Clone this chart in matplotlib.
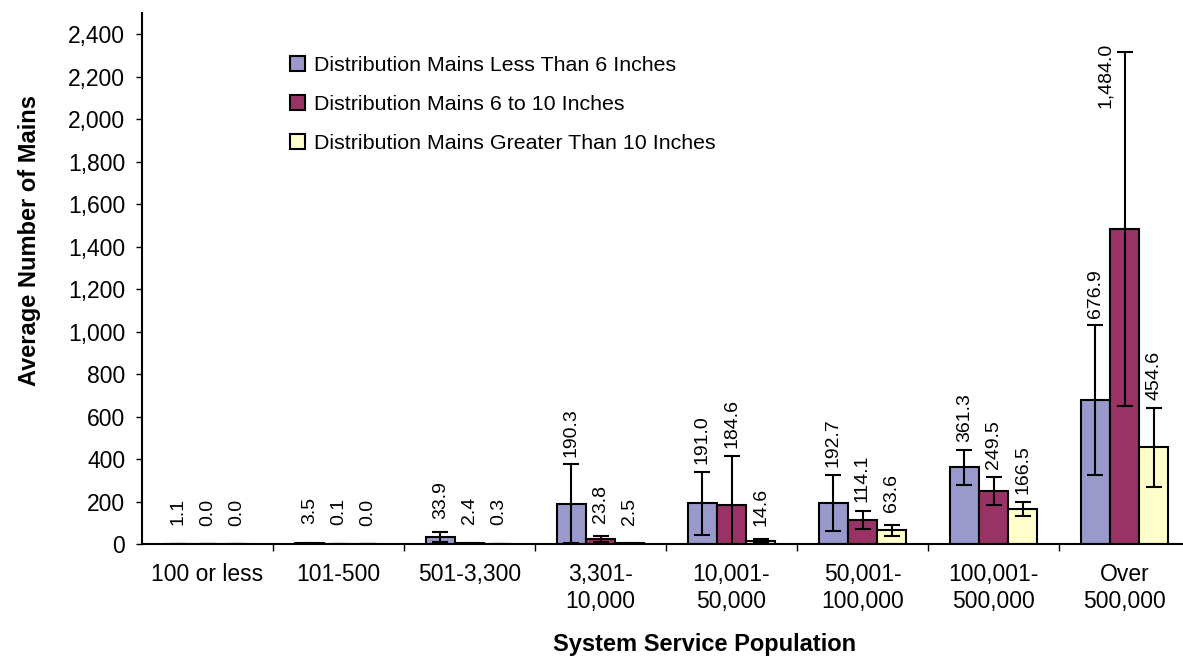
import matplotlib
matplotlib.use("Agg")
import matplotlib.pyplot as plt
import numpy as np

plt.rcParams['font.family'] = ['Liberation Sans', 'DejaVu Sans']

categories = ["100 or less", "101-500", "501-3,300", "3,301-\n10,000", "10,001-\n50,000",
              "50,001-\n100,000", "100,001-\n500,000", "Over\n500,000"]
series_names = ["Distribution Mains Less Than 6 Inches",
                "Distribution Mains 6 to 10 Inches",
                "Distribution Mains Greater Than 10 Inches"]
lt6 = [1.1, 3.5, 33.9, 190.3, 191.0, 192.7, 361.3, 676.9]
mid = [0.0, 0.1, 2.4, 23.8, 184.6, 114.1, 249.5, 1484.0]
gt10 = [0.0, 0.0, 0.3, 2.5, 14.6, 63.6, 166.5, 454.6]
# error bar half-widths
err_lt6 = [1, 2, 24, 185, 150, 133, 82, 352]
err_mid = [0, 0.2, 3, 13, 230, 43, 68, 832]
err_gt10 = [0, 0, 0.5, 2, 7, 25, 33, 188]

colors = ["#9999CC", "#993366", "#FFFFCC"]

fig = plt.figure(figsize=(11.83, 6.58), dpi=100)
# x axis runs a little past the right edge of the picture, as in the original
ax = fig.add_axes([142/1183, 1-544/658, (1190-142)/1183, (544-13)/658])

x = np.arange(len(categories))
w = 0.222
for i, (vals, errs) in enumerate([(lt6, err_lt6), (mid, err_mid), (gt10, err_gt10)]):
    pos = x + (i-1)*w
    ax.bar(pos, vals, w, color=colors[i], edgecolor='black', linewidth=1.5,
           label=series_names[i], zorder=2)
    ax.errorbar(pos, vals, yerr=errs, fmt='none', ecolor='black', elinewidth=1.5,
                capsize=6, capthick=1.5, zorder=3)
    for px, v, e in zip(pos, vals, errs):
        hi = v + e
        if hi > 2000:
            ax.annotate(f"{v:,.1f}", (px, hi), xytext=(-10, 9), textcoords='offset pixels',
                        rotation=90, ha='right', va='top', fontsize=14)
        else:
            ax.annotate(f"{v:,.1f}", (px, hi), xytext=(0, 32), textcoords='offset pixels',
                        rotation=90, ha='center', va='center', fontsize=14)

ax.set_xlim(-0.5, len(categories)-0.5)
ax.set_ylim(0, 2500)
ax.set_yticks(np.arange(0, 2401, 200))
ax.set_yticklabels([f"{t:,}" for t in range(0, 2401, 200)])
ax.set_xticks(x)
ax.set_xticklabels(categories)
ax.set_xticks(np.arange(0.5, len(categories)-0.5, 1), minor=True)
ax.tick_params(axis='x', which='major', length=0, pad=14, labelsize=16.5)
ax.tick_params(axis='x', which='minor', length=5, width=1, direction='out')
ax.tick_params(axis='y', length=4, width=1, pad=8, labelsize=16.5)

for s in ['top', 'right']:
    ax.spines[s].set_visible(False)
ax.spines['left'].set_linewidth(1.5)
ax.spines['bottom'].set_linewidth(1.5)

fig.text(30/1183, 1-240/658, "Average Number of Mains", rotation=90, ha='center',
         va='center', fontsize=17, fontweight='bold')
fig.text(705/1183, 1-645/658, "System Service Population", ha='center', va='center',
         fontsize=17, fontweight='bold')

ax.legend(loc='upper left', bbox_to_anchor=(290/1183, 1-56/658),
          bbox_transform=fig.transFigure, frameon=False, fontsize=15.4,
          handlelength=0.7, handleheight=0.7, handletextpad=0.4,
          labelspacing=0.93, borderpad=0, borderaxespad=0)

fig.savefig("out.png", dpi=100)
